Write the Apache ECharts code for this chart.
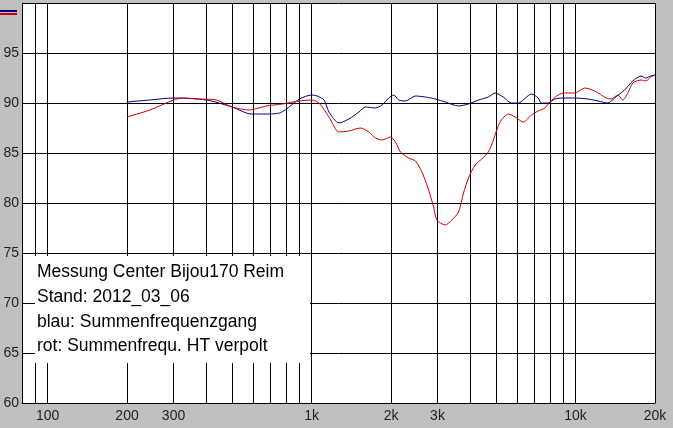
<!DOCTYPE html>
<html><head><meta charset="utf-8">
<script src="https://cdn.jsdelivr.net/npm/echarts@6/dist/echarts.min.js"></script>
<style>html,body{margin:0;padding:0;background:#c0c0c0;}#c{width:673px;height:428px;}</style>
</head><body><div id="c"></div>
<script>
const blueFreq = [200,244,300,400,500,590,700,755,795,900,1000,1050,1115,1164,1270,1385,1511,1601,1747,1850,1961,2048,2139,2268,2474,2697,2943,3209,3603,3930,4287,4675,4956,5326,5711,6067,6810,7221,7412,7877,8348,8972,9931,11149,12160,13268,14056,15337,16482,17720,18450,19272,20000];
const blueDb = [90.1,90.3,90.5,90.3,89.6,88.9,88.9,89.0,89.3,90.4,90.8,90.7,90.3,89.1,88.0,88.4,89.1,89.6,89.5,89.8,90.5,90.8,90.3,90.2,90.7,90.6,90.4,90.1,89.7,89.9,90.3,90.6,91.0,90.6,90.0,90.0,90.9,90.5,90.0,90.0,90.4,90.5,90.5,90.4,90.2,90.0,90.5,91.3,92.2,92.7,92.5,92.7,92.8];
const redFreq = [200,244,300,325,376,436,500,581,673,774,897,1000,1067,1164,1270,1385,1534,1648,1747,1850,1990,2078,2171,2333,2474,2619,2776,2900,2984,3209,3399,3603,3764,3930,4165,4411,4675,4884,5176,5564,5897,6338,6810,7221,7655,7993,8590,9106,9931,10832,11817,13073,13650,14467,15110,15783,16482,17720,18450,19300,20000];
const redDb = [88.6,89.3,90.3,90.5,90.4,90.3,89.6,89.3,89.7,89.9,90.2,90.3,90.0,88.6,87.1,87.2,87.5,87.1,86.5,86.3,86.6,86.1,85.1,84.5,84.2,83.1,81.3,79.6,78.3,77.8,78.3,79.1,81.0,82.5,83.8,84.4,85.1,86.3,88.1,88.9,88.6,88.1,88.8,89.2,89.5,90.1,90.8,91.0,91.0,91.5,91.2,90.5,90.4,90.8,90.3,91.0,92.0,92.3,92.2,92.6,92.8];
const gridFreqs = [90,100,200,300,400,500,600,700,800,900,1000,2000,3000,4000,5000,6000,7000,8000,9000,10000,20000];
const labelFreqs = [100,200,300,1000,2000,3000,10000,20000];
const noteLines = ['Messung Center Bijou170 Reim','Stand: 2012_03_06','blau: Summenfrequenzgang','rot: Summenfrequ. HT verpolt'];

const font = "'Liberation Sans', Arial, sans-serif";
const chart = echarts.init(document.getElementById('c'));
const zip = (a, b) => a.map((v, i) => [v, b[i]]);
chart.setOption({
  backgroundColor: '#c0c0c0',
  animation: false,
  grid: { left: 22, right: 18, top: 3, bottom: 25, show: true, backgroundColor: '#fff', borderWidth: 0 },
  legend: {
    data: ['blau', 'rot'], left: 0, top: 10, orient: 'vertical', icon: 'rect',
    itemWidth: 17, itemHeight: 2, itemGap: 1, formatter: () => '', textStyle: { fontSize: 1 }, padding: 0
  },
  xAxis: {
    type: 'log', logBase: 10, min: 80, max: 20000,
    axisLine: { show: true, lineStyle: { color: '#000', width: 1 } },
    axisTick: { show: false, customValues: gridFreqs },
    splitLine: { show: true, lineStyle: { color: '#000', width: 1 } },
    minorTick: { show: false }, minorSplitLine: { show: false },
    axisLabel: {
      customValues: labelFreqs, color: '#222', fontSize: 14, fontFamily: font, margin: 6,
      formatter: v => { const r = Math.round(v); return r >= 1000 ? (r / 1000) + 'k' : String(r); }
    }
  },
  yAxis: {
    type: 'value', min: 60, max: 100, interval: 5,
    axisLine: { show: true, lineStyle: { color: '#000', width: 1 } },
    axisTick: { show: false },
    splitLine: { show: true, lineStyle: { color: '#000', width: 1 } },
    axisLabel: { color: '#222', fontSize: 14, fontFamily: font, margin: 3, formatter: v => v === 100 ? '' : String(v) }
  },
  series: [
    { name: 'blau', type: 'line', data: zip(blueFreq, blueDb), showSymbol: false, symbol: 'none', smooth: 0.25,
      lineStyle: { color: '#000080', width: 1 }, itemStyle: { color: '#000080' }, z: 3 },
    { name: 'rot', type: 'line', data: zip(redFreq, redDb), showSymbol: false, symbol: 'none', smooth: 0.25,
      lineStyle: { color: '#cc0000', width: 1 }, itemStyle: { color: '#cc0000' }, z: 4 }
  ],
  graphic: [
    { type: 'rect', z: 100, shape: { x: 35, y: 256, width: 275, height: 107 }, style: { fill: '#fff' } },
    { type: 'text', z: 101, x: 37, y: 260, style: { text: noteLines.join('\n'), fontSize: 17.5, fontFamily: font, fill: '#000', lineHeight: 24.7 } }
  ]
});
</script></body></html>
